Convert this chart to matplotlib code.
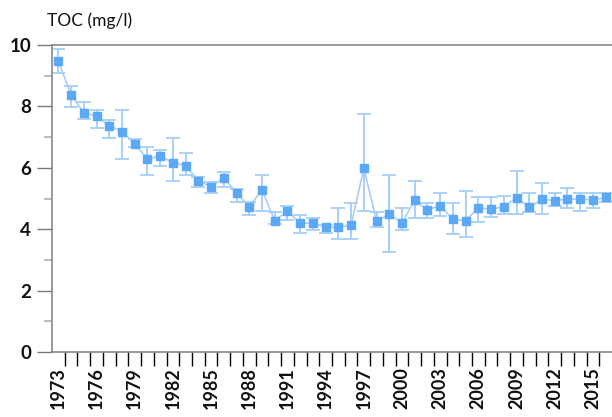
import matplotlib.pyplot as plt
import numpy as np

# TOC yearly means with upper/lower error bar ends
years = list(range(1973, 2017))
toc = [9.48, 8.37, 7.8, 7.68, 7.37, 7.18, 6.78, 6.29, 6.38, 6.17,
       6.07, 5.58, 5.39, 5.68, 5.19, 4.73, 5.28, 4.28, 4.59, 4.19,
       4.21, 4.06, 4.06, 4.14, 5.98, 4.27, 4.48, 4.21, 4.94, 4.63,
       4.77, 4.32, 4.28, 4.7, 4.65, 4.73, 5.03, 4.71, 4.98, 4.93,
       4.98, 4.98, 4.95, 5.04]
toc_hi = [9.87, 8.66, 8.15, 7.87, 7.56, 7.87, 6.95, 6.67, 6.58, 6.96,
          6.47, 5.69, 5.55, 5.85, 5.3, 4.89, 5.77, 4.55, 4.76, 4.46,
          4.36, 4.14, 4.68, 4.86, 7.75, 4.57, 5.77, 4.68, 5.58, 4.86,
          5.17, 4.84, 5.25, 5.04, 5.06, 5.08, 5.91, 5.17, 5.49, 5.17,
          5.35, 5.19, 5.17, 5.17]
toc_lo = [9.1, 7.98, 7.58, 7.29, 6.96, 6.28, 6.69, 5.77, 6.06, 5.57,
          5.77, 5.39, 5.17, 5.39, 4.88, 4.46, 4.59, 4.17, 4.3, 3.87,
          3.97, 3.87, 3.67, 3.67, 4.59, 4.06, 3.27, 3.97, 4.38, 4.37,
          4.43, 3.84, 3.76, 4.24, 4.39, 4.48, 4.48, 4.55, 4.48, 4.77,
          4.68, 4.59, 4.68, 4.9]
label_years = list(range(1973, 2017, 3))

font = 'Lato'
line_col = '#a6cff8'
mark_col = '#5aa8f6'

fig = plt.figure(figsize=(6.12, 4.17), dpi=100)
ax = fig.add_axes([52 / 612, 65 / 417, 560 / 612, 307 / 417])

x = np.arange(len(years))
y = np.array(toc)
yerr = [y - np.array(toc_lo), np.array(toc_hi) - y]
ax.errorbar(x, y, yerr=yerr, fmt='none', ecolor=line_col, elinewidth=1.4,
            capsize=5, capthick=1.3, zorder=2)
ax.plot(x, y, color=line_col, lw=1.2, zorder=3)
ax.plot(x, y, ls='none', marker='s', ms=6, color=mark_col, zorder=4)

ax.set_xlim(-0.5, len(years) - 0.5)
ax.set_ylim(0, 10)

# y axis
ax.set_yticks(np.arange(0, 11, 2))
ax.set_yticks(np.arange(1, 10, 2), minor=True)
ax.tick_params(axis='y', which='major', length=11, width=1, color='#777777',
               labelsize=13.5, pad=4, labelcolor='#111111')
ax.tick_params(axis='y', which='minor', length=6, width=1.5, color='#bbbbbb')

# x axis: ticks on category boundaries, labels every third year
ax.set_xticks([years.index(v) for v in label_years])
ax.set_xticklabels([str(v) for v in label_years], rotation=90,
                   fontsize=13, fontweight='bold', color='#111111')
ax.set_xticks(np.arange(0.5, len(years) - 0.5, 1), minor=True)
ax.tick_params(axis='x', which='major', length=0, pad=11)
ax.tick_params(axis='x', which='minor', length=10, width=1)
for i, t in enumerate(ax.xaxis.get_minor_ticks()):
    t.tick1line.set_color('#bbbbbb' if i % 2 == 0 else '#777777')

for lab in ax.get_yticklabels() + ax.get_xticklabels():
    lab.set_family(font)
for lab in ax.get_yticklabels():
    lab.set_fontweight('bold')

for s in ['left', 'top', 'bottom']:
    ax.spines[s].set_color('#888888')
    ax.spines[s].set_linewidth(1.2)
ax.spines['right'].set_visible(False)

fig.text(47 / 612, 1 - 21 / 417, 'TOC (mg/l)', family=font, fontsize=12.5,
         va='center', ha='left', color='#111111')

fig.savefig('out.png', dpi=100)
